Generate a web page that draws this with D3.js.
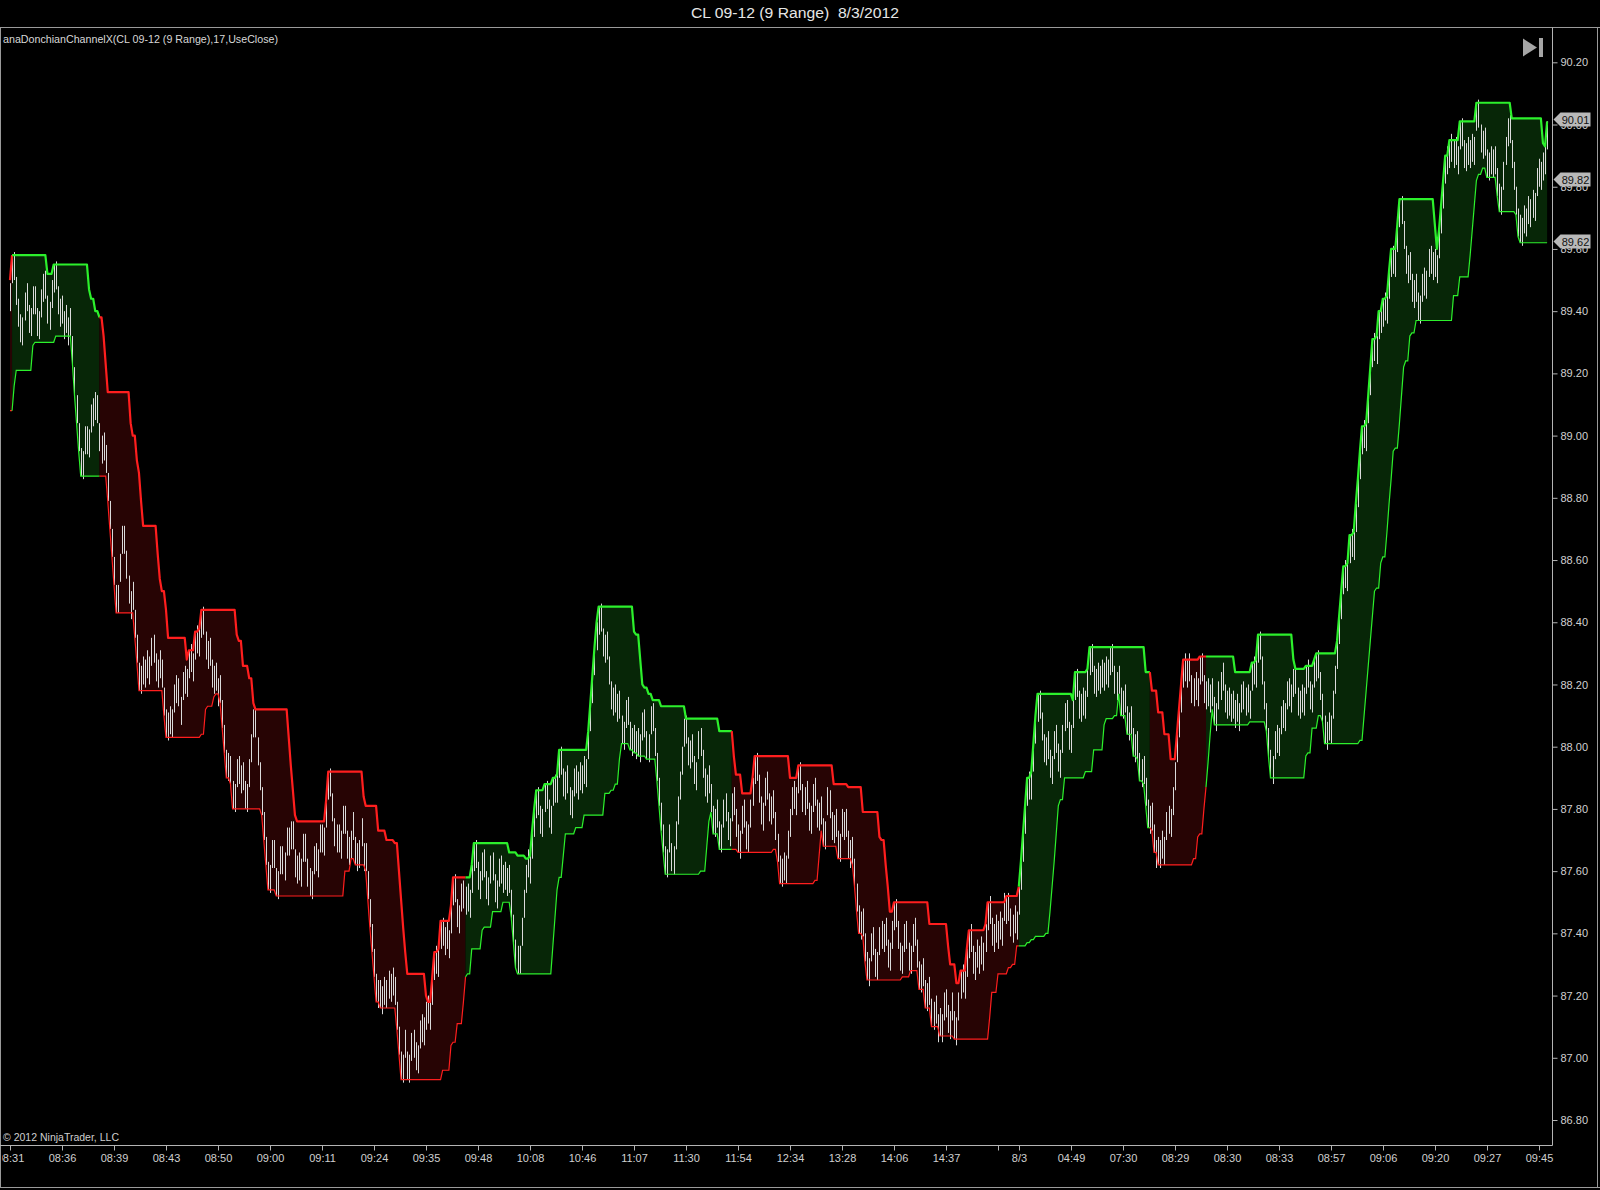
<!DOCTYPE html>
<html><head><meta charset="utf-8">
<script src="https://cdn.jsdelivr.net/npm/d3@7"></script>
<style>html,body{margin:0;padding:0;background:#000;}svg{display:block}</style>
</head><body><svg id="c" width="1600" height="1190"></svg>
<script>
const title = "CL 09-12 (9 Range)  8/3/2012";
const indicatorLabel = "anaDonchianChannelX(CL 09-12 (9 Range),17,UseClose)";
const copyright = "\u00A9 2012 NinjaTrader, LLC";
const period = 17;
const barRange = 0.09;
// closes of bars loaded before the first visible bar (feed the channel only)
const warmupCloses = [89.15,89.08,89.16,89.25,89.33,89.40,89.47,89.50,89.41,89.33,89.21,89.29,89.37,89.45,89.36,89.42];
const closes = [
89.49,89.58,89.50,89.42,89.35,89.30,89.38,89.46,89.40,89.33,
89.41,89.48,89.39,89.32,89.40,89.47,89.52,89.44,89.36,89.43,
89.50,89.55,89.47,89.39,89.44,89.36,89.40,89.33,89.38,89.32,
89.23,89.13,89.04,88.95,88.87,88.95,89.03,88.94,89.02,89.10,
89.03,89.14,89.04,88.95,89.00,88.92,88.88,88.79,88.70,88.61,
88.52,88.43,88.52,88.62,88.71,88.62,88.54,88.46,88.50,88.44,
88.35,88.27,88.18,88.26,88.20,88.28,88.22,88.29,88.35,88.27,
88.21,88.28,88.22,88.19,88.10,88.03,88.11,88.04,88.12,88.20,
88.14,88.13,88.16,88.24,88.17,88.25,88.31,88.24,88.30,88.37,
88.30,88.38,88.44,88.36,88.28,88.34,88.26,88.19,88.26,88.18,
88.22,88.14,88.06,87.98,87.90,87.98,87.88,87.80,87.88,87.96,
87.88,87.94,87.86,87.80,87.88,87.96,88.04,88.12,88.03,87.94,
87.86,87.78,87.70,87.62,87.54,87.62,87.70,87.61,87.52,87.60,
87.68,87.59,87.66,87.74,87.65,87.76,87.67,87.58,87.65,87.57,
87.64,87.72,87.63,87.55,87.52,87.60,87.68,87.60,87.67,87.75,
87.66,87.74,87.83,87.92,87.84,87.76,87.68,87.75,87.66,87.73,
87.81,87.72,87.64,87.71,87.73,87.70,87.62,87.69,87.70,87.68,
87.69,87.60,87.51,87.42,87.34,87.26,87.18,87.25,87.16,87.23,
87.17,87.25,87.19,87.27,87.20,87.17,87.09,87.01,86.93,87.01,
87.00,86.93,87.01,87.08,87.00,86.96,87.04,87.12,87.05,87.13,
87.18,87.11,87.18,87.26,87.34,87.27,87.35,87.44,87.36,87.42,
87.35,87.41,87.49,87.58,87.50,87.42,87.49,87.56,87.48,87.55,
87.47,87.54,87.62,87.69,87.61,87.54,87.60,87.66,87.58,87.51,
87.58,87.65,87.57,87.50,87.57,87.64,87.56,87.62,87.54,87.61,
87.53,87.45,87.37,87.29,87.27,87.36,87.45,87.54,87.62,87.58,
87.65,87.73,87.80,87.86,87.78,87.72,87.80,87.88,87.80,87.74,
87.81,87.90,87.82,87.91,87.99,87.91,87.84,87.92,87.85,87.78,
87.86,87.93,87.85,87.92,87.86,87.94,87.88,87.96,88.05,88.14,
88.23,88.32,88.40,88.45,88.37,88.29,88.36,88.28,88.20,88.12,
88.19,88.11,88.17,88.09,88.01,88.08,88.15,88.07,87.99,88.06,
87.98,88.05,87.97,88.04,88.11,88.03,87.96,88.04,88.13,88.05,
87.97,87.89,87.81,87.73,87.66,87.59,87.67,87.75,87.60,87.68,
87.76,87.84,87.92,88.00,88.09,88.01,87.94,88.02,87.95,87.88,
87.95,88.05,87.97,87.90,87.84,87.91,87.85,87.79,87.72,87.80,
87.74,87.67,87.75,87.83,87.76,87.70,87.77,87.85,87.78,87.71,
87.66,87.73,87.81,87.74,87.67,87.75,87.83,87.90,87.97,87.89,
87.82,87.75,87.82,87.90,87.83,87.76,87.84,87.77,87.70,87.63,
87.56,87.64,87.57,87.65,87.73,87.80,87.87,87.80,87.87,87.94,
87.86,87.79,87.87,87.80,87.73,87.81,87.88,87.81,87.74,87.82,
87.75,87.68,87.76,87.87,87.77,87.70,87.78,87.71,87.64,87.72,
87.71,87.79,87.71,87.64,87.70,87.62,87.55,87.47,87.40,87.47,
87.39,87.31,87.25,87.32,87.40,87.33,87.26,87.34,87.42,87.35,
87.43,87.36,87.29,87.37,87.44,87.50,87.42,87.35,87.28,87.36,
87.43,87.35,87.28,87.36,87.43,87.36,87.29,87.22,87.30,87.23,
87.16,87.24,87.17,87.10,87.18,87.11,87.14,87.07,87.14,87.21,
87.13,87.08,87.15,87.12,87.06,87.13,87.21,87.28,87.21,87.28,
87.35,87.41,87.34,87.27,87.34,87.29,87.36,87.30,87.37,87.43,
87.50,87.43,87.36,87.43,87.37,87.44,87.38,87.45,87.44,87.52,
87.44,87.39,87.46,87.40,87.47,87.55,87.63,87.72,87.81,87.90,
87.83,87.92,88.01,88.10,88.17,88.09,88.02,87.95,88.03,87.96,
87.90,87.97,88.05,87.98,87.92,87.99,88.07,88.14,88.06,87.99,
88.07,88.15,88.24,88.16,88.09,88.17,88.10,88.18,88.25,88.32,
88.24,88.17,88.25,88.18,88.26,88.19,88.27,88.20,88.28,88.32,
88.24,88.17,88.24,88.17,88.10,88.18,88.11,88.04,88.11,88.04,
87.97,88.04,87.96,87.89,87.96,87.88,87.81,87.74,87.81,87.73,
87.66,87.70,87.62,87.70,87.64,87.71,87.79,87.72,87.80,87.87,
87.95,88.04,88.12,88.20,88.28,88.21,88.28,88.21,88.14,88.22,
88.15,88.22,88.29,88.21,88.14,88.21,88.13,88.20,88.13,88.07,
88.14,88.21,88.24,88.18,88.11,88.18,88.10,88.17,88.09,88.15,
88.08,88.14,88.20,88.12,88.19,88.11,88.18,88.27,88.20,88.28,
88.36,88.28,88.20,88.12,88.05,87.97,87.90,87.97,88.05,87.98,
88.06,88.13,88.06,88.14,88.21,88.13,88.20,88.25,88.17,88.10,
88.18,88.11,88.19,88.26,88.19,88.12,88.20,88.28,88.30,88.22,
88.15,88.08,88.01,88.08,88.02,88.10,88.18,88.26,88.34,88.42,
88.50,88.58,88.51,88.59,88.68,88.61,88.69,88.78,88.86,88.95,
89.03,88.96,89.04,89.13,89.22,89.31,89.24,89.32,89.40,89.33,
89.44,89.37,89.45,89.53,89.60,89.52,89.60,89.68,89.76,89.68,
89.60,89.52,89.58,89.50,89.43,89.50,89.43,89.37,89.45,89.52,
89.45,89.53,89.60,89.52,89.59,89.51,89.58,89.66,89.74,89.82,
89.90,89.84,89.95,89.88,89.95,89.87,89.93,90.01,89.93,89.86,
89.94,89.87,89.95,89.88,89.96,90.07,89.99,89.91,89.98,89.90,
89.83,89.91,89.84,89.92,89.84,89.77,89.72,89.80,89.88,89.96,
90.02,89.94,89.86,89.79,89.71,89.64,89.62,89.70,89.65,89.73,
89.68,89.76,89.70,89.78,89.86,89.80,89.88,89.82,89.93,90.01];
// [first bar index, trend] : 1 = up (green), -1 = down (red)
const trendFlips = [[0,-1],[2,1],[44,-1],[220,1],[348,-1],[486,1],[549,-1],[576,1]];
const xTickBars = [0,25,50,75,100,125,150,175,200,225,250,275,300,325,350,375,400,425,450,475,485,510,535,560,585,610,635,660,685,710,735];
const xTickLabels = ["08:31","08:36","08:39","08:43","08:50","09:00","09:11","09:24","09:35","09:48","10:08","10:46","11:07","11:30","11:54","12:34","13:28","14:06","14:37","","8/3","04:49","07:30","08:29","08:30","08:33","08:57","09:06","09:20","09:27","09:45"];
const yTicks = [86.80,87.00,87.20,87.40,87.60,87.80,88.00,88.20,88.40,88.60,88.80,89.00,89.20,89.40,89.60,89.80,90.00,90.20];
const markerValues = [90.01, 89.82, 89.62];

const svg = d3.select("#c");
const W = 1600, H = 1190;
const plotL = 1, plotR = 1552.5, plotT = 27.5, plotB = 1145.5;
const FONT = "'Liberation Sans', Arial, sans-serif";
const GREEN = "#2cf02c", RED = "#ff1e1e";
const GREEN_FILL = "#072607", RED_FILL = "#270404";
const N = closes.length;
const all = warmupCloses.concat(closes);
const off = warmupCloses.length;

const x = d3.scaleLinear().domain([0, N - 1]).range([10, 10 + (N - 1) * 2.08]);
const y = d3.scaleLinear().domain([86.80, 90.20]).range([1120, 62.3]);

// Donchian channel on closes
const upper = [], lower = [], trend = [];
for (let i = 0; i < N; i++) {
  const w = all.slice(Math.max(0, i + off - period + 1), i + off + 1);
  upper.push(d3.max(w)); lower.push(d3.min(w));
}
let fi = 0;
for (let i = 0; i < N; i++) {
  while (fi + 1 < trendFlips.length && trendFlips[fi + 1][0] <= i) fi++;
  trend.push(trendFlips[fi][1]);
}

svg.append("rect").attr("width", W).attr("height", H).attr("fill", "#000");
// frame
svg.append("line").attr("x1", 0).attr("x2", W).attr("y1", plotT).attr("y2", plotT).attr("stroke", "#9a9a9a");
svg.append("line").attr("x1", 0.5).attr("x2", 0.5).attr("y1", plotT).attr("y2", H - 2).attr("stroke", "#9a9a9a");
svg.append("line").attr("x1", W - 2.5).attr("x2", W - 2.5).attr("y1", plotT).attr("y2", H - 2).attr("stroke", "#9a9a9a");
svg.append("line").attr("x1", 0).attr("x2", W).attr("y1", H - 2.5).attr("y2", H - 2.5).attr("stroke", "#9a9a9a");

// title
svg.append("text").attr("x", 795).attr("y", 18).attr("text-anchor", "middle")
  .attr("fill", "#e6e6e6").attr("font-family", FONT).attr("font-size", 14)
  .style("white-space", "pre").attr("xml:space", "preserve")
  .attr("textLength", 208).attr("lengthAdjust", "spacingAndGlyphs").text(title);

const defs = svg.append("defs");
defs.append("clipPath").attr("id", "plotclip").append("rect")
  .attr("x", plotL + 0.5).attr("y", plotT + 0.5).attr("width", plotR - plotL - 1).attr("height", plotB - plotT - 1);
defs.append("clipPath").attr("id", "xclip").append("rect")
  .attr("x", 2).attr("y", 0).attr("width", plotR).attr("height", 40);

const plot = svg.append("g").attr("clip-path", "url(#plotclip)");

// runs of equal trend
const runs = [];
let s = 0;
for (let i = 1; i <= N; i++) {
  if (i === N || trend[i] !== trend[s]) { runs.push({a: Math.max(0, s - 1), b: i - 1, t: trend[s]}); s = i; }
}
const idx = d3.range(N);
const area = d3.area().x(i => x(i)).y0(i => y(lower[i])).y1(i => y(upper[i]));
const uLine = d3.line().x(i => x(i)).y(i => y(upper[i]));
const lLine = d3.line().x(i => x(i)).y(i => y(lower[i]));

runs.forEach(r => {
  plot.append("path").datum(idx.slice(r.a, r.b + 1)).attr("d", area)
    .attr("fill", r.t > 0 ? GREEN_FILL : RED_FILL);
});

// OHLC range bars
const bars = closes.map((c, i) => {
  const prev = all[i + off - 1];
  const up = c > prev;
  return {i, hi: up ? c : c + barRange, lo: up ? c - barRange : c};
});
plot.append("g").selectAll("line").data(bars).join("line")
  .attr("x1", d => Math.round(x(d.i)) + 0.5).attr("x2", d => Math.round(x(d.i)) + 0.5)
  .attr("y1", d => y(d.hi)).attr("y2", d => y(d.lo))
  .attr("stroke", "#dadada").attr("stroke-width", 1);

runs.forEach(r => {
  const pts = idx.slice(r.a, r.b + 1);
  const col = r.t > 0 ? GREEN : RED;
  plot.append("path").datum(pts).attr("d", lLine).attr("fill", "none")
    .attr("stroke", col).attr("stroke-width", 1.2);
  plot.append("path").datum(pts).attr("d", uLine).attr("fill", "none")
    .attr("stroke", col).attr("stroke-width", 2.2).attr("stroke-linejoin", "round");
});

// indicator label & copyright
svg.append("text").attr("x", 3).attr("y", 43).attr("fill", "#d8d8d8")
  .attr("font-family", FONT).attr("font-size", 11).attr("textLength", 275)
  .attr("lengthAdjust", "spacingAndGlyphs").text(indicatorLabel);
svg.append("text").attr("x", 3).attr("y", 1141).attr("fill", "#cfcfcf")
  .attr("font-family", FONT).attr("font-size", 10.5).attr("textLength", 116)
  .attr("lengthAdjust", "spacingAndGlyphs").text(copyright);

// scroll-to-end icon
svg.append("path").attr("d", "M1523,38.5 L1537,47.5 L1523,56.5 Z").attr("fill", "#a6a6a6");
svg.append("rect").attr("x", 1539).attr("y", 38).attr("width", 4).attr("height", 19).attr("fill", "#a6a6a6");

// axes lines
svg.append("line").attr("x1", plotR).attr("x2", plotR).attr("y1", plotT).attr("y2", plotB).attr("stroke", "#b4b4b4");
svg.append("line").attr("x1", 0).attr("x2", plotR).attr("y1", plotB).attr("y2", plotB).attr("stroke", "#b4b4b4");

// y axis
const yAxis = d3.axisRight(y).tickValues(yTicks).tickFormat(d3.format(".2f")).tickSize(5).tickPadding(3);
const gy = svg.append("g").attr("transform", `translate(${plotR},0)`).call(yAxis);
gy.select(".domain").remove();
gy.selectAll("line").attr("stroke", "#b4b4b4");
gy.selectAll("text").attr("fill", "#d0d0d0").attr("font-family", FONT).attr("font-size", 11);

// x axis
const xAxis = d3.axisBottom(x).tickValues(xTickBars).tickFormat((d, k) => xTickLabels[k]).tickSize(5).tickPadding(4);
const gx = svg.append("g").attr("transform", `translate(0,${plotB})`).call(xAxis);
gx.select(".domain").remove();
gx.selectAll(".tick").attr("transform", d => `translate(${Math.round(x(d)) + 0.5},0)`);
gx.selectAll("line").attr("stroke", "#b4b4b4");
gx.selectAll("text").attr("fill", "#d0d0d0").attr("font-family", FONT).attr("font-size", 11);
gx.attr("clip-path", "url(#xclip)");

// price markers (drawn over the tick labels, as in the platform)
markerValues.forEach(v => {
  const yy = Math.round(y(v)) - 1.5;
  const g = svg.append("g");
  g.append("path").attr("d", `M${plotR + 1},${yy} L${plotR + 8},${yy - 7} L${plotR + 38},${yy - 7} L${plotR + 38},${yy + 7} L${plotR + 8},${yy + 7} Z`)
    .attr("fill", "#b9b9b9");
  g.append("text").attr("x", plotR + 23).attr("y", yy + 4).attr("text-anchor", "middle")
    .attr("fill", "#111").attr("font-family", FONT).attr("font-size", 11).text(v.toFixed(2));
});
</script></body></html>
